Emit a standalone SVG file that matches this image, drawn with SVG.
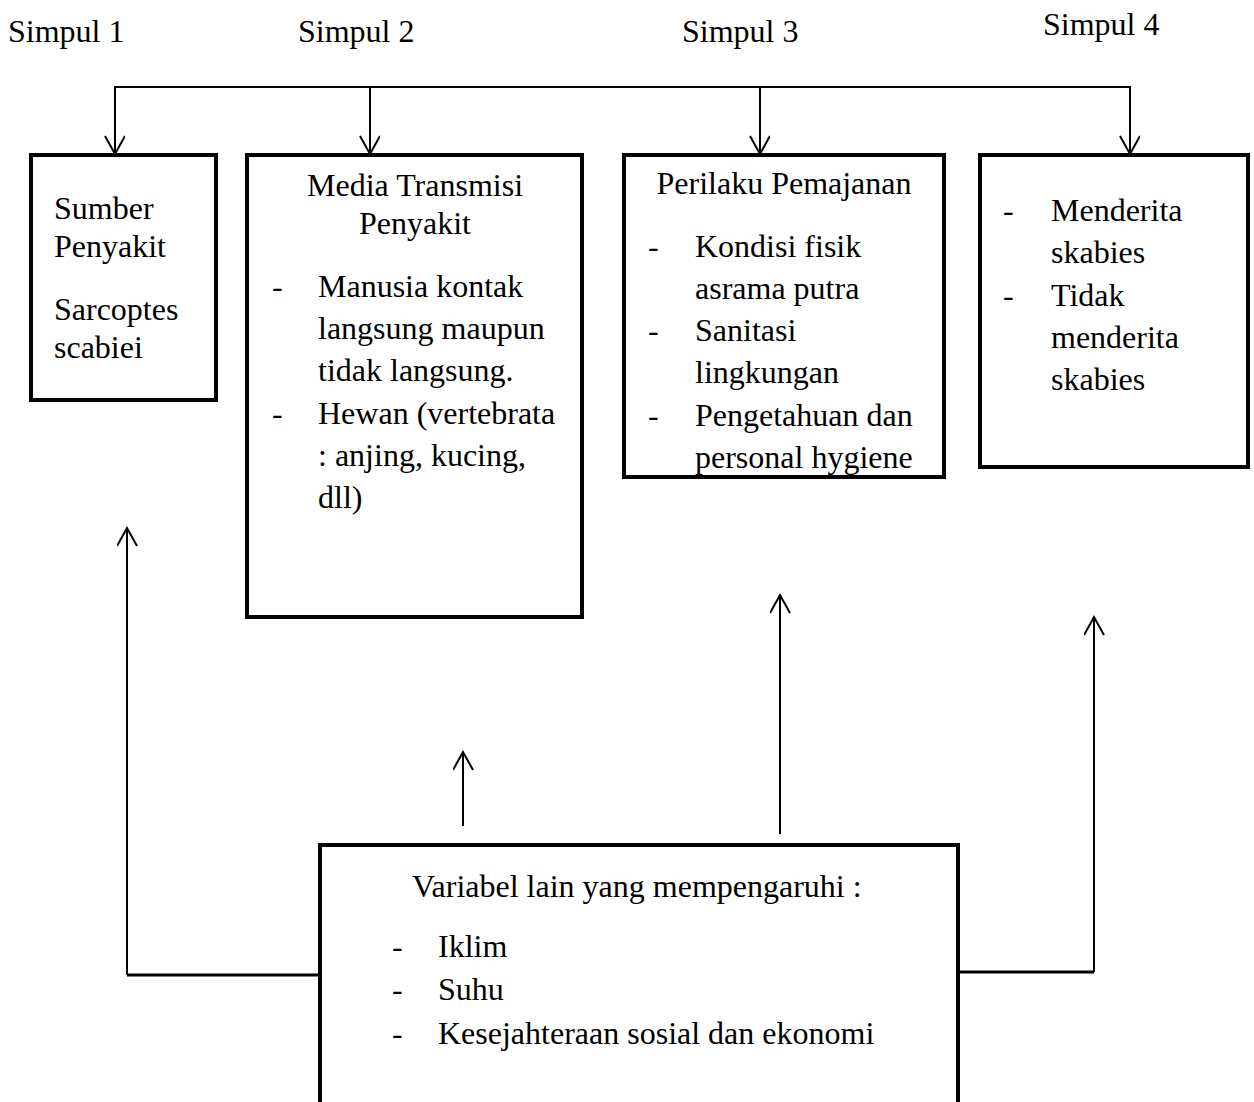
<svg xmlns="http://www.w3.org/2000/svg" width="1254" height="1102" viewBox="0 0 1254 1102">
<style>
text{font-family:"Liberation Serif","Times New Roman",serif;font-size:32px;fill:#000}
.box{fill:#fff;stroke:#000;stroke-width:4}
.ln{fill:none;stroke:#000;stroke-width:2}
.thick{fill:none;stroke:#000;stroke-width:3}
.c{text-anchor:middle}
</style>
<defs>
<marker id="ah" markerWidth="22" markerHeight="22" refX="19" refY="10" orient="auto" markerUnits="userSpaceOnUse" viewBox="0 0 22 22">
<path d="M1,0 L19,10 L1,20" fill="none" stroke="#000" stroke-width="2"/>
</marker>
</defs>
<rect width="1254" height="1102" fill="#fff"/>
<g id="labels">
<text x="8" y="42">Simpul 1</text>
<text x="298" y="42">Simpul 2</text>
<text x="682" y="42">Simpul 3</text>
<text x="1043" y="35">Simpul 4</text>
</g>
<g id="connectors">
<path class="ln" d="M115,120 V87 H1130 V120"/>
<line class="ln" x1="115" y1="87" x2="115" y2="154" marker-end="url(#ah)"/>
<line class="ln" x1="370" y1="87" x2="370" y2="154" marker-end="url(#ah)"/>
<line class="ln" x1="760" y1="87" x2="760" y2="154" marker-end="url(#ah)"/>
<line class="ln" x1="1130" y1="87" x2="1130" y2="154" marker-end="url(#ah)"/>
<path class="thick" d="M320,975 H127"/>
<line class="ln" x1="127" y1="975" x2="127" y2="528" marker-end="url(#ah)"/>
<line class="ln" x1="463" y1="826" x2="463" y2="752" marker-end="url(#ah)"/>
<line class="ln" x1="780" y1="834" x2="780" y2="595" marker-end="url(#ah)"/>
<path class="thick" d="M958,972 H1094"/>
<line class="ln" x1="1094" y1="972" x2="1094" y2="617" marker-end="url(#ah)"/>
</g>
<g id="node1">
<rect class="box" x="31" y="155" width="185" height="245"/>
<text x="54" y="219">Sumber</text>
<text x="54" y="257">Penyakit</text>
<text x="54" y="320">Sarcoptes</text>
<text x="54" y="358">scabiei</text>
</g>
<g id="node2">
<rect class="box" x="247" y="155" width="335" height="462"/>
<text class="c" x="415" y="196">Media Transmisi</text>
<text class="c" x="415" y="234">Penyakit</text>
<text x="272" y="297">-</text>
<text x="318" y="297">Manusia kontak</text>
<text x="318" y="339">langsung maupun</text>
<text x="318" y="381">tidak langsung.</text>
<text x="272" y="424">-</text>
<text x="318" y="424">Hewan (vertebrata</text>
<text x="318" y="466">: anjing, kucing,</text>
<text x="318" y="508">dll)</text>
</g>
<g id="node3">
<rect class="box" x="624" y="155" width="320" height="322"/>
<text class="c" x="784" y="194">Perilaku Pemajanan</text>
<text x="648" y="257">-</text>
<text x="695" y="257">Kondisi fisik</text>
<text x="695" y="299">asrama putra</text>
<text x="648" y="341">-</text>
<text x="695" y="341">Sanitasi</text>
<text x="695" y="383">lingkungan</text>
<text x="648" y="426">-</text>
<text x="695" y="426">Pengetahuan dan</text>
<text x="695" y="468">personal hygiene</text>
</g>
<g id="node4">
<rect class="box" x="980" y="155" width="268" height="312"/>
<text x="1003" y="221">-</text>
<text x="1051" y="221">Menderita</text>
<text x="1051" y="263">skabies</text>
<text x="1003" y="306">-</text>
<text x="1051" y="306">Tidak</text>
<text x="1051" y="348">menderita</text>
<text x="1051" y="390">skabies</text>
</g>
<g id="node5">
<path class="box" d="M320,1104 V845 H958 V1104"/>
<text x="412" y="897">Variabel lain yang mempengaruhi :</text>
<text x="392" y="957">-</text>
<text x="438" y="957">Iklim</text>
<text x="392" y="1000">-</text>
<text x="438" y="1000">Suhu</text>
<text x="392" y="1044">-</text>
<text x="438" y="1044">Kesejahteraan sosial dan ekonomi</text>
</g>
</svg>
